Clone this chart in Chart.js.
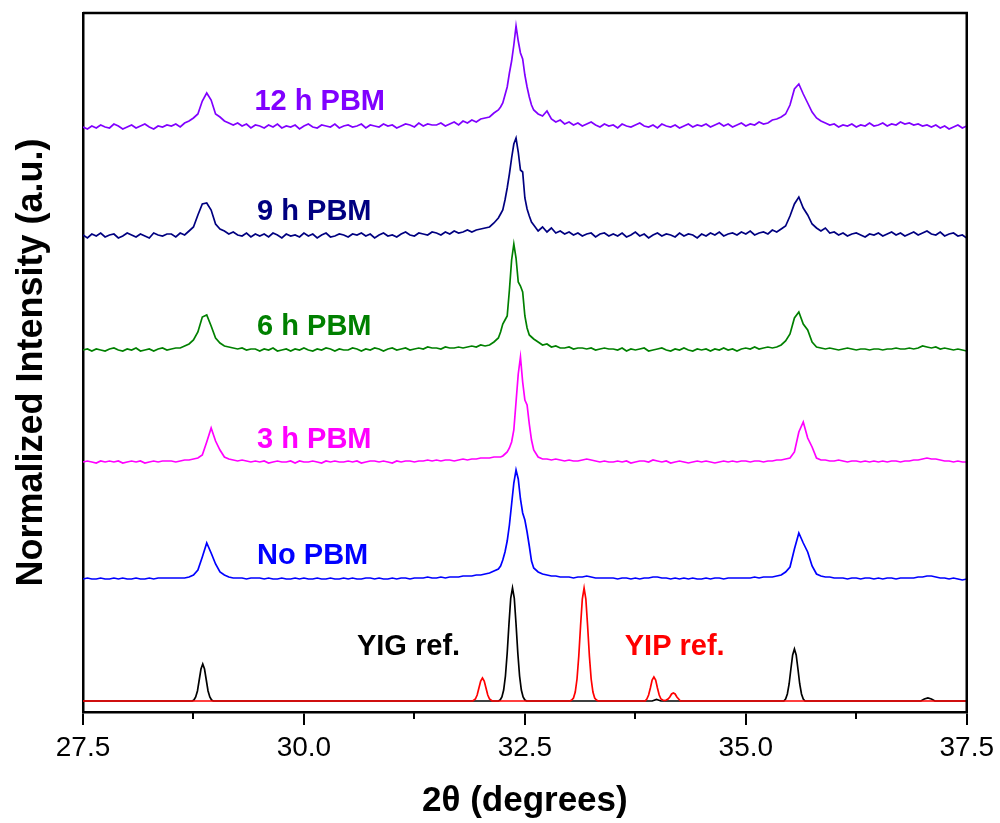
<!DOCTYPE html>
<html>
<head>
<meta charset="utf-8">
<script src="https://cdn.jsdelivr.net/npm/chart.js@4"></script>
<style>
  html, body { margin: 0; padding: 0; background: #fff; }
  #wrap { width: 1000px; height: 823px; position: relative; }
</style>
</head>
<body>
<div id="wrap"><canvas id="xrd"></canvas></div>
<script>
// XRD patterns, 2theta grid shared by the measured samples
const twoTheta = [
  27.50, 27.55, 27.60, 27.65, 27.70, 27.75, 27.80, 27.85, 27.90, 27.95, 28.00, 28.05, 28.10, 28.15, 28.20, 28.25, 28.30, 28.35, 28.40, 28.45,
  28.50, 28.55, 28.60, 28.65, 28.70, 28.75, 28.80, 28.85, 28.90, 28.95, 29.00, 29.05, 29.10, 29.15, 29.20, 29.25, 29.30, 29.35, 29.40, 29.45,
  29.50, 29.55, 29.60, 29.65, 29.70, 29.75, 29.80, 29.85, 29.90, 29.95, 30.00, 30.05, 30.10, 30.15, 30.20, 30.25, 30.30, 30.35, 30.40, 30.45,
  30.50, 30.55, 30.60, 30.65, 30.70, 30.75, 30.80, 30.85, 30.90, 30.95, 31.00, 31.05, 31.10, 31.15, 31.20, 31.25, 31.30, 31.35, 31.40, 31.45,
  31.50, 31.55, 31.60, 31.65, 31.70, 31.75, 31.80, 31.85, 31.90, 31.95, 32.00, 32.05, 32.10, 32.15,
  32.200, 32.225, 32.250, 32.275, 32.300, 32.325, 32.350, 32.375, 32.400, 32.425, 32.450, 32.475, 32.500, 32.525, 32.550, 32.575, 32.600,
  32.65, 32.70, 32.75, 32.80, 32.85, 32.90, 32.95, 33.00, 33.05, 33.10, 33.15, 33.20, 33.25, 33.30, 33.35, 33.40, 33.45,
  33.50, 33.55, 33.60, 33.65, 33.70, 33.75, 33.80, 33.85, 33.90, 33.95, 34.00, 34.05, 34.10, 34.15, 34.20, 34.25, 34.30, 34.35, 34.40, 34.45,
  34.50, 34.55, 34.60, 34.65, 34.70, 34.75, 34.80, 34.85, 34.90, 34.95, 35.00, 35.05, 35.10, 35.15, 35.20, 35.25, 35.30, 35.35, 35.40, 35.45,
  35.50, 35.55, 35.60, 35.65, 35.70, 35.75, 35.80, 35.85, 35.90, 35.95, 36.00, 36.05, 36.10, 36.15, 36.20, 36.25, 36.30, 36.35, 36.40, 36.45,
  36.50, 36.55, 36.60, 36.65, 36.70, 36.75, 36.80, 36.85, 36.90, 36.95, 37.00, 37.05, 37.10, 37.15, 37.20, 37.25, 37.30, 37.35, 37.40, 37.45, 37.50
];

// intensities above each pattern's own baseline
const noPbm = [
  0, 1, 0, 0, 1, 0, 0, 1, 0, 1, 0, 0, 1, 0, 0, 1, 0, 1, 1, 1,
  1, 1, 1, 1, 2, 4, 9, 22, 36, 26, 15, 7, 4, 2, 1, 1, 1, 0, 1, 1,
  1, 0, 1, 0, 0, 1, 0, 0, 1, 0, 1, 0, 0, 1, 0, 0, 1, 0, 0, 1,
  0, 1, 0, 0, 1, 1, 0, 1, 0, 0, 1, 0, 1, 1, 0, 1, 1, 1, 2, 1,
  1, 2, 1, 2, 2, 2, 3, 3, 3, 4, 4, 5, 6, 8,
  10, 13, 19, 27, 38, 54, 75, 96, 109, 100, 80, 66, 59, 47, 33, 18, 11,
  7, 5, 4, 3, 3, 2, 2, 2, 1, 2, 2, 3, 2, 1, 1, 1, 1,
  1, 0, 1, 1, 0, 1, 0, 1, 1, 2, 2, 1, 1, 0, 1, 0, 1, 0, 1, 0,
  0, 1, 0, 1, 1, 0, 1, 1, 1, 1, 1, 1, 2, 1, 2, 2, 2, 3, 4, 7,
  12, 30, 46, 36, 27, 13, 5, 3, 2, 2, 1, 1, 1, 0, 1, 1, 0, 1, 1, 0,
  1, 0, 1, 1, 0, 1, 1, 1, 1, 2, 2, 3, 3, 2, 1, 1, 0, 1, 0, -1, 0
];
const pbm3h = [
  0, 1, 0, -1, 1, 0, 1, 0, 1, -1, 0, 1, 0, 1, -1, 0, 1, 0, 1, 1,
  1, 0, 1, 2, 2, 3, 4, 7, 20, 34, 21, 12, 5, 3, 2, 1, 2, 1, 0, 1,
  0, 1, -1, 0, 1, 0, 0, 1, -1, 1, 0, 0, 1, 0, -1, 1, 0, 1, 0, 0,
  1, 0, 1, -1, 0, 1, 1, 0, 1, 0, -1, 1, 0, 1, 1, 0, 1, 1, 2, 1,
  2, 1, 2, 2, 1, 2, 3, 2, 3, 3, 4, 4, 4, 5,
  5, 5, 6, 8, 10, 14, 20, 32, 60, 88, 105, 80, 62, 57, 38, 22, 12,
  5, 3, 3, 2, 3, 2, 1, 2, 1, 1, 2, 3, 2, 1, 0, 1, 0,
  0, 1, 0, 1, -1, 0, 1, 1, 0, 2, 1, 0, 1, -1, 0, 1, 0, -1, 0, 1,
  0, 1, 0, -1, 0, 1, 0, 1, 0, 1, 1, 0, 1, 1, 0, 1, 1, 2, 2, 3,
  4, 10, 30, 40, 24, 15, 4, 2, 2, 1, 1, 2, 1, 0, 1, 1, 0, 1, 0, 1,
  0, 1, 0, 1, 1, 0, 1, 1, 2, 2, 3, 4, 3, 3, 2, 1, 1, 0, 1, 0, 0
];
const pbm6h = [
  0, 1, -1, 1, 0, -1, 1, 2, 0, -1, 1, 0, 2, -1, 0, 1, -1, 1, 2, 0,
  1, 2, 2, 4, 6, 10, 18, 33, 35, 24, 12, 7, 4, 3, 2, 1, 2, 0, 1, 1,
  -1, 1, 0, 2, -1, 0, 1, -1, 1, 0, 2, 0, -1, 1, 0, 2, 1, -1, 1, 0,
  0, 2, 1, -1, 1, 0, 2, 1, -1, 1, 2, 0, 1, 2, 0, 1, 2, 1, 3, 2,
  2, 1, 3, 2, 2, 3, 2, 3, 4, 3, 5, 4, 5, 8,
  12, 18, 26, 30, 34, 60, 90, 106, 92, 68, 64, 58, 34, 22, 15, 13, 11,
  8, 5, 6, 3, 4, 2, 2, 3, 1, 2, 2, 1, 2, 0, 1, 2, 1,
  1, 0, 2, -1, 1, 0, 1, 2, -1, 0, 1, 2, 0, -1, 1, 0, 2, 0, -1, 1,
  0, 1, -1, 1, 0, 2, 0, 1, -1, 1, 2, 1, 3, 1, 2, 3, 2, 3, 5, 9,
  16, 32, 38, 26, 20, 8, 3, 2, 1, 2, 1, 0, 1, 2, 1, 0, 1, 1, 0, 1,
  1, 0, 1, 1, 2, 1, 1, 2, 1, 2, 4, 3, 2, 3, 1, 2, 1, 0, 1, 0, -1
];
const pbm9h = [
  1, -2, 2, 0, 3, -1, 1, 2, -2, 0, 3, 1, -1, 2, 0, -2, 3, 1, 0, 2,
  2, -1, 3, 1, 5, 9, 21, 32, 33, 26, 12, 7, 5, 2, 4, 1, 0, 3, -1, 2,
  0, 2, -1, 3, 1, -2, 2, 0, 1, -1, 3, 0, 2, -2, 1, 3, -1, 0, 2, 1,
  -1, 2, 1, 3, 0, 2, -2, 1, 3, 0, 1, -1, 2, 4, 1, 0, 3, 2, 1, 4,
  3, 1, 4, 2, 5, 3, 4, 6, 4, 6, 7, 8, 9, 13,
  18, 22, 26, 36, 48, 62, 78, 92, 98, 84, 66, 64, 38, 27, 20, 14, 11,
  5, 9, 4, 8, 3, 5, 2, 4, 1, 3, 0, 2, 3, -1, 2, 3, 0,
  2, 0, 3, -1, 1, 4, 0, 2, -2, 1, 3, 0, 2, 1, -1, 3, 0, 2, 1, -2,
  2, 0, 3, 1, 4, 0, 2, 3, 1, 4, 2, 5, 1, 3, 4, 2, 6, 4, 7, 10,
  20, 32, 39, 28, 21, 12, 8, 5, 8, 3, 4, 1, 3, 0, 2, 3, 1, -1, 2, 1,
  3, 0, 2, 4, 1, 3, 0, 2, 4, 1, 3, 5, 2, 1, 4, 0, 2, 3, 0, 1, -2
];
const pbm12h = [
  0, -2, 1, -1, 2, 0, -1, 3, 1, -2, 0, 2, -1, 1, 3, 0, -2, 1, 0, 2,
  1, 3, 0, 4, 6, 9, 13, 26, 34, 27, 13, 10, 6, 4, 2, 4, 1, 3, -1, 2,
  1, -1, 2, 0, 3, -1, 1, 0, 2, -2, 1, 3, 0, -1, 2, 1, 0, 3, -1, 1,
  2, 0, 1, 3, -1, 2, 1, 0, 3, 1, 2, -1, 1, 3, 2, 0, 4, 1, 3, 2,
  2, 4, 1, 3, 5, 2, 6, 4, 7, 5, 8, 9, 10, 14,
  17, 20, 24, 32, 40, 54, 66, 82, 101, 86, 74, 68, 52, 40, 30, 22, 17,
  13, 11, 16, 8, 5, 7, 3, 5, 2, 4, 1, 3, 5, 2, 0, 3, 1,
  2, -1, 3, 1, 0, 2, 4, 1, 0, 2, -1, 3, 1, 0, 2, -1, 1, 3, 0, 2,
  1, 3, 0, 2, 4, 1, 3, 0, 2, 4, 1, 3, 2, 5, 3, 4, 7, 8, 10, 13,
  22, 38, 43, 33, 24, 15, 9, 6, 4, 2, 3, 0, 2, 1, 3, 0, 2, 1, 4, 1,
  2, 4, 1, 3, 2, 5, 3, 4, 2, 3, 1, 2, 0, 2, -1, 1, -2, 0, 2, -1, 1
];

// reference patterns (own 2theta points)
const yigX = [27.5,
  28.735, 28.755, 28.775, 28.795, 28.815, 28.835, 28.855, 28.875, 28.895, 28.915, 28.935, 28.955, 28.975,
  32.20, 32.22, 32.24, 32.26, 32.28, 32.30, 32.32, 32.34, 32.36, 32.38, 32.40, 32.42, 32.44, 32.46, 32.48, 32.50, 32.52,
  33.94, 33.99, 34.04,
  35.43, 35.45, 35.47, 35.49, 35.51, 35.53, 35.55, 35.57, 35.59, 35.61, 35.63, 35.65, 35.67,
  36.98, 37.02, 37.06, 37.10, 37.14,
  37.5];
const yigY = [0,
  0, 1, 4, 10, 21, 32, 37, 32, 21, 10, 4, 1, 0,
  0, 1, 4, 11, 25, 48, 77, 103, 113, 103, 77, 48, 25, 11, 4, 1, 0,
  0, 1.5, 0,
  0, 2, 7, 17, 32, 46, 52, 46, 32, 17, 7, 2, 0,
  0, 2, 3, 2, 0,
  0];
const yipX = [27.5,
  31.91, 31.94, 31.96, 31.98, 32.00, 32.02, 32.04, 32.06, 32.08, 32.10, 32.13,
  33.01, 33.03, 33.05, 33.07, 33.09, 33.11, 33.13, 33.15, 33.17, 33.19, 33.21, 33.23, 33.25, 33.27, 33.29, 33.31, 33.33,
  33.86, 33.88, 33.90, 33.92, 33.94, 33.96, 33.98, 34.00, 34.02, 34.04, 34.06, 34.08,
  34.10, 34.12, 34.14, 34.16, 34.18, 34.20, 34.22, 34.24, 34.26,
  37.5];
const yipY = [0,
  0, 2, 6, 13, 20, 23, 20, 13, 6, 2, 0,
  0, 1, 3, 9, 22, 45, 75, 102, 113, 102, 75, 45, 22, 9, 3, 1, 0,
  0, 2, 6, 13, 21, 24, 21, 13, 6, 2, 1, 0.5,
  1, 2, 4, 7, 8, 7, 4, 2, 0,
  0];

// vertical stacking offsets
const sampleNames = ['No PBM', '3 h PBM', '6 h PBM', '9 h PBM', '12 h PBM'];
const sampleOffsets = [133, 250, 362, 476, 585];
const refOffset = 11;

// in-plot labels
const labelTexts = ['12 h PBM', '9 h PBM', '6 h PBM', '3 h PBM', 'No PBM', 'YIG ref.', 'YIP ref.'];
const labelX = [29.44, 29.47, 29.47, 29.47, 29.47, 30.60, 33.63];
const labelY = [610, 500, 385, 272, 156, 65, 65];
const labelColors = ['#8000ff', '#000080', '#008000', '#ff00ff', '#0000ff', '#000000', '#ff0000'];

const xTicks = [27.5, 30.0, 32.5, 35.0, 37.5];
const minorTicks = [28.75, 31.25, 33.75, 36.25];

const sampleColors = ['#0000ff', '#ff00ff', '#008000', '#000080', '#8000ff'];
const sampleSeries = [noPbm, pbm3h, pbm6h, pbm9h, pbm12h];

function toPoints(xs, ys, offset) {
    return xs.map((x, i) => ({ x: x, y: ys[i] + offset }));
}

const datasets = [];
datasets.push({
    label: 'YIP ref.',
    data: toPoints(yipX, yipY, refOffset),
    borderColor: '#ff0000',
    order: 0
});
datasets.push({
    label: 'YIG ref.',
    data: toPoints(yigX, yigY, refOffset),
    borderColor: '#000000',
    order: 1
});
sampleSeries.forEach((vals, i) => {
    datasets.push({
        label: sampleNames[i],
        data: toPoints(twoTheta, vals, sampleOffsets[i]),
        borderColor: sampleColors[i],
        order: 2
    });
});

// box frame, minor ticks and pattern labels
const extras = {
    id: 'extras',
    afterDraw(chart) {
        const ctx = chart.ctx;
        const area = chart.chartArea;
        const xs = chart.scales.x;
        const ys = chart.scales.y;
        ctx.save();
        ctx.strokeStyle = '#000';
        ctx.lineWidth = 2.5;
        ctx.beginPath();
        ctx.moveTo(area.left, area.top);
        ctx.lineTo(area.right, area.top);
        ctx.lineTo(area.right, area.bottom);
        ctx.stroke();

        ctx.lineWidth = 2;
        minorTicks.forEach(v => {
            const px = Math.round(xs.getPixelForValue(v));
            ctx.beginPath();
            ctx.moveTo(px, area.bottom);
            ctx.lineTo(px, area.bottom + 7);
            ctx.stroke();
        });

        ctx.font = 'bold 29px Arial, "Liberation Sans", sans-serif';
        ctx.textAlign = 'left';
        ctx.textBaseline = 'middle';
        labelTexts.forEach((t, i) => {
            ctx.fillStyle = labelColors[i];
            ctx.fillText(t, xs.getPixelForValue(labelX[i]), ys.getPixelForValue(labelY[i]));
        });
        ctx.restore();
    }
};

new Chart(document.getElementById('xrd'), {
    type: 'line',
    data: { datasets: datasets },
    options: {
        responsive: true,
        maintainAspectRatio: false,
        animation: false,
        layout: { padding: { top: 13, right: 32, left: 0, bottom: 0 } },
        elements: {
            line: { borderWidth: 1.7, tension: 0, fill: false },
            point: { radius: 0 }
        },
        scales: {
            x: {
                type: 'linear',
                min: 27.5,
                max: 37.5,
                afterFit: s => { s.height = 111; },
                afterBuildTicks: s => { s.ticks = xTicks.map(v => ({ value: v })); },
                border: { display: true, color: '#000', width: 2.5 },
                grid: { display: true, drawOnChartArea: false, drawTicks: true, tickLength: 13, color: '#000', lineWidth: 2 },
                ticks: {
                    color: '#000',
                    padding: 6,
                    maxRotation: 0,
                    font: { family: 'Arial, "Liberation Sans", sans-serif', size: 28 },
                    callback: v => v.toFixed(1)
                },
                title: {
                    display: true,
                    text: '2θ (degrees)',
                    color: '#000',
                    font: { family: 'Arial, "Liberation Sans", sans-serif', size: 35, weight: 'bold' },
                    padding: { top: 0, bottom: 1 }
                }
            },
            y: {
                type: 'linear',
                min: 0,
                max: 699,
                afterFit: s => { s.width = 83; },
                border: { display: true, color: '#000', width: 2.5 },
                grid: { display: false },
                ticks: { display: false },
                title: {
                    display: true,
                    text: 'Normalized Intensity (a.u.)',
                    color: '#000',
                    font: { family: 'Arial, "Liberation Sans", sans-serif', size: 36, weight: 'bold' },
                    padding: { top: 10, bottom: 0 }
                }
            }
        },
        plugins: {
            legend: { display: false },
            tooltip: { enabled: false }
        }
    },
    plugins: [extras]
});
</script>
</body>
</html>
